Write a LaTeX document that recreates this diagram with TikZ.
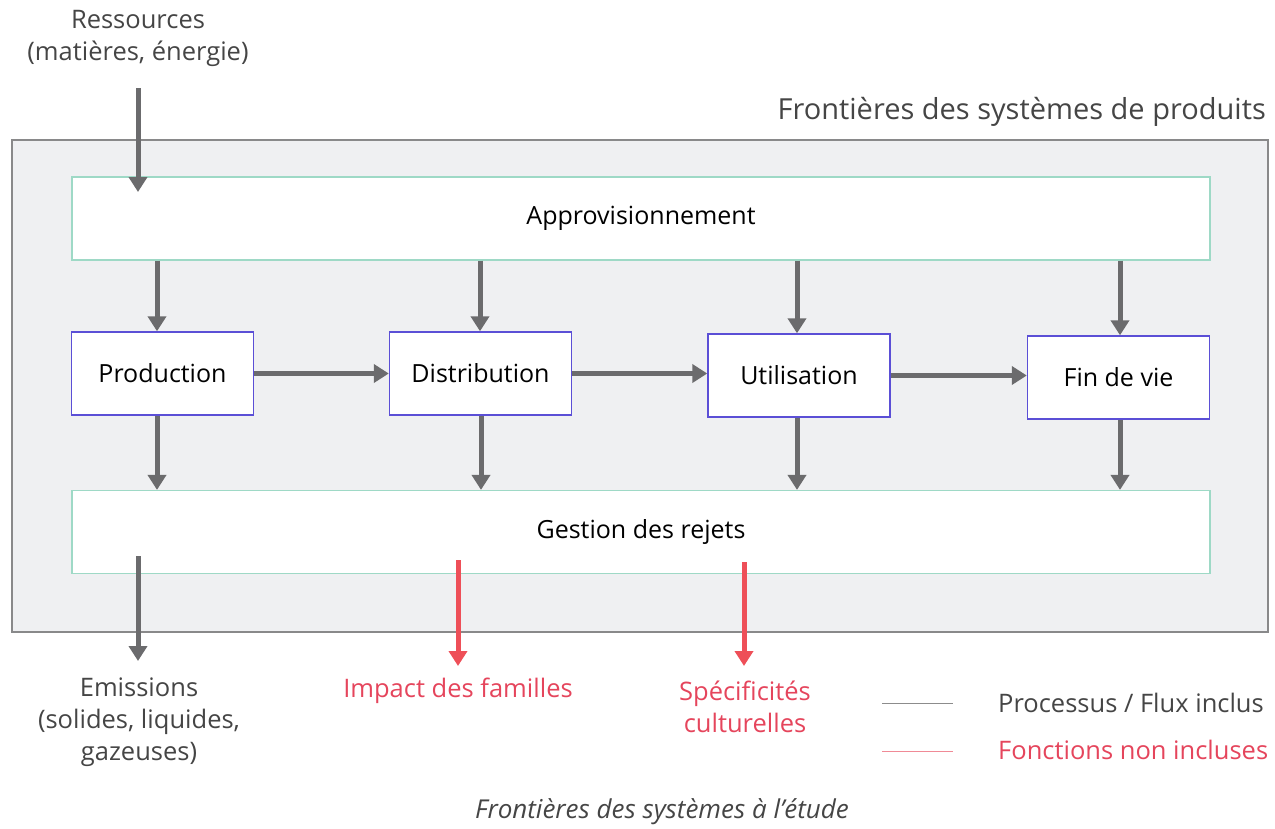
\documentclass[tikz,border=0pt]{standalone}
\usepackage{fontspec}
\setmainfont{Open Sans}
\usetikzlibrary{arrows.meta}
\definecolor{flux}{HTML}{6B6B6D}
\definecolor{redflux}{HTML}{EE4F58}
\definecolor{redtext}{HTML}{E5455C}
\definecolor{labeltext}{HTML}{454545}
\definecolor{bggray}{HTML}{EFF0F2}
\definecolor{greenb}{HTML}{9ED9C6}
\definecolor{blueb}{HTML}{5B4FD6}
\definecolor{leggray}{HTML}{8C8C8C}
\definecolor{legred}{HTML}{F08A96}
\begin{document}
\begin{tikzpicture}[x=1pt,y=-1pt,
  wide/.style={draw=greenb,line width=1.2pt,fill=white,minimum width=1138pt,minimum height=83pt,inner sep=0pt,font=\fontsize{25}{30}\selectfont,text=black},
  proc/.style={draw=blueb,line width=1.4pt,fill=white,minimum width=182pt,minimum height=83pt,inner sep=0pt,font=\fontsize{25}{30}\selectfont,text=black},
  arr/.style={draw=flux,line width=5pt,-{Triangle[length=15pt,width=18pt]}},
  rarr/.style={draw=redflux,line width=5pt,-{Triangle[length=15pt,width=18pt]}},
  lbl/.style={text=labeltext,font=\fontsize{25.5}{32}\selectfont,align=center,inner sep=0pt},
  rlbl/.style={text=redtext,font=\fontsize{25.5}{32}\selectfont,align=center,inner sep=0pt}]
\useasboundingbox (0,0) rectangle (1275,828);
\node[draw=flux!80,line width=1.5pt,fill=bggray,minimum width=1256pt,minimum height=492pt,inner sep=0pt] (frame) at (640,386) {};
\node[wide] (appro) at (641,218.5) {Approvisionnement};
\node[wide] (gest) at (641,532) {Gestion des rejets};
\node[proc] (prod) at (162.5,373.5) {Production};
\node[proc] (dist) at (480.5,373.5) {Distribution};
\node[proc] (util) at (799,375.5) {Utilisation};
\node[proc] (fin) at (1118.5,377.5) {Fin de vie};
% labels
\node[lbl] (res) at (138,38) {Ressources\\(matières, énergie)};
\node[lbl,font=\fontsize{29}{34}\selectfont,anchor=east] (front) at (1266,112) {Frontières des systèmes de produits};
\node[lbl] (emi) at (139,722) {Emissions\\(solides, liquides,\\gazeuses)};
\node[rlbl] (imp) at (458,691) {Impact des familles};
\node[rlbl] (spe) at (745,707) {Spécificités\\culturelles};
\node[lbl,anchor=west] (leg1) at (998,703) {Processus / Flux inclus};
\node[rlbl,anchor=west] (leg2) at (998,750) {Fonctions non incluses};
\node[lbl,font=\fontsize{26}{30}\selectfont\itshape] (cap) at (662,812) {Frontières des systèmes à l’étude};
% coordinates
\coordinate (r0) at (138,88);
\coordinate (r1) at (138,192);
\coordinate (e0) at (138,556);
\coordinate (e1) at (138,661);
\coordinate (i0) at (458,560);
\coordinate (i1) at (458,666);
\coordinate (s0) at (744,562);
\coordinate (s1) at (744,666);
\coordinate (l1a) at (882,703);
\coordinate (l1b) at (953,703);
\coordinate (l2a) at (882,751);
\coordinate (l2b) at (953,751);
% arrows
\draw[arr] (r0) -- (r1);
\draw[arr] (appro.south -| 157,0) -- (prod.north -| 157,0);
\draw[arr] (appro.south -| 480,0) -- (dist.north -| 480,0);
\draw[arr] (appro.south -| 797,0) -- (util.north -| 797,0);
\draw[arr] (appro.south -| 1120,0) -- (fin.north -| 1120,0);
\draw[arr] (prod.east) -- (dist.west);
\draw[arr] (dist.east) -- (util.west |- dist.east);
\draw[arr] (util.east) -- (fin.west |- util.east);
\draw[arr] (prod.south -| 157,0) -- (gest.north -| 157,0);
\draw[arr] (dist.south -| 481,0) -- (gest.north -| 481,0);
\draw[arr] (util.south -| 797,0) -- (gest.north -| 797,0);
\draw[arr] (fin.south -| 1120,0) -- (gest.north -| 1120,0);
\draw[arr] (e0) -- (e1);
\draw[rarr] (i0) -- (i1);
\draw[rarr] (s0) -- (s1);
\draw[leggray,line width=1pt] (l1a) -- (l1b);
\draw[legred,line width=1pt] (l2a) -- (l2b);
\end{tikzpicture}
\end{document}
